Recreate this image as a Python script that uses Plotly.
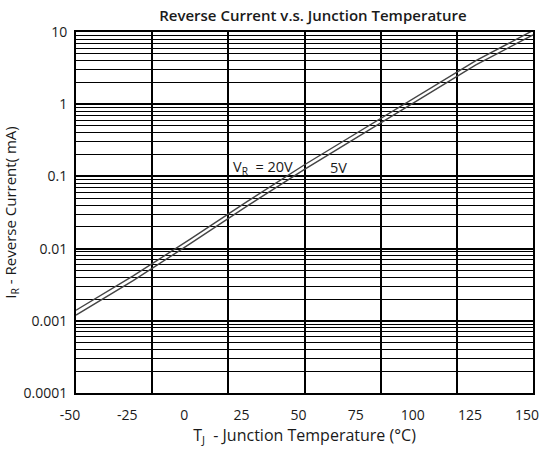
import plotly.graph_objects as go

# Data
temps = [-50, -25, 0, 25, 50, 75, 100, 125, 150]
ir_20v = [0.0014, 0.0042, 0.0135, 0.045, 0.145, 0.44, 1.35, 4.0, 10.5]
ir_5v = [0.0012, 0.0036, 0.0117, 0.039, 0.125, 0.38, 1.17, 3.5, 9.1]

x_ticks = [-50, -25, 0, 25, 50, 75, 100, 125, 150]
x_ticktext = ["-50", "-25", "0", "25", "50", "75", "100", "125", "150"]
y_ticks = [0.0001, 0.001, 0.01, 0.1, 1, 10]
y_ticktext = ["0.0001", "0.001", "0.01", "0.1", "1", "10"]
x_grid = [-50 + k * 200 / 6 for k in range(7)]
y_minor = [m * d for d in [0.0001, 0.001, 0.01, 0.1, 1] for m in range(2, 10)]

FONT = "Open Sans"
TXT = "#1a1a1a"
LINE = "#444444"

fig = go.Figure()
fig.add_trace(go.Scatter(x=temps, y=ir_20v, mode="lines", name="VR = 20V",
                         line=dict(color=LINE, width=1.4), xaxis="x", yaxis="y"))
fig.add_trace(go.Scatter(x=temps, y=ir_5v, mode="lines", name="5V",
                         line=dict(color=LINE, width=1.4), xaxis="x2", yaxis="y"))

fig.update_layout(
    width=549, height=451,
    margin=dict(l=76, r=10, t=32, b=58),
    paper_bgcolor="white", plot_bgcolor="white",
    showlegend=False,
    font=dict(family=FONT, size=14, color=TXT),
    title=dict(text="Reverse Current v.s. Junction Temperature",
               x=0.57, xanchor="center", y=0.965, yanchor="middle",
               font=dict(family=FONT, size=15, color=TXT, weight=600)),
    xaxis=dict(range=[-50, 150], tickvals=x_ticks, ticktext=x_ticktext,
               showgrid=False, zeroline=False, showline=True, linecolor="black",
               linewidth=2, mirror=True, ticks="", ticklabelshift=-6,
               ticklabelstandoff=8, tickfont=dict(size=14),
               title=dict(text="T<sub>J</sub>  - Junction Temperature (°C)",
                          standoff=2, font=dict(size=16))),
    xaxis2=dict(range=[-50, 150], matches="x", overlaying="x", anchor="y",
                tickvals=x_grid, showticklabels=False, showgrid=True,
                gridcolor="black", gridwidth=2, zeroline=False, ticks=""),
    yaxis=dict(type="log", range=[-4, 1], tickvals=y_ticks, ticktext=y_ticktext,
               showgrid=True, gridcolor="black", gridwidth=2, zeroline=False,
               showline=True, linecolor="black", linewidth=2, mirror=True,
               ticks="", ticklabelstandoff=4, tickfont=dict(size=14),
               minor=dict(tickvals=y_minor, showgrid=True, gridcolor="black",
                          gridwidth=1.3, ticks=""),
               title=dict(text="I<sub>R</sub> - Reverse Current( mA)",
                          standoff=3, font=dict(size=15))),
    annotations=[
        dict(x=32, y=-0.87, xref="x", yref="y", text="V<sub>R</sub>  = 20V",
             showarrow=False, font=dict(size=14.5, color=TXT),
             xanchor="center", yanchor="middle"),
        dict(x=65, y=-0.87, xref="x", yref="y", text="5V",
             showarrow=False, font=dict(size=14.5, color=TXT),
             xanchor="center", yanchor="middle"),
    ],
)

fig.write_html("out.html")
